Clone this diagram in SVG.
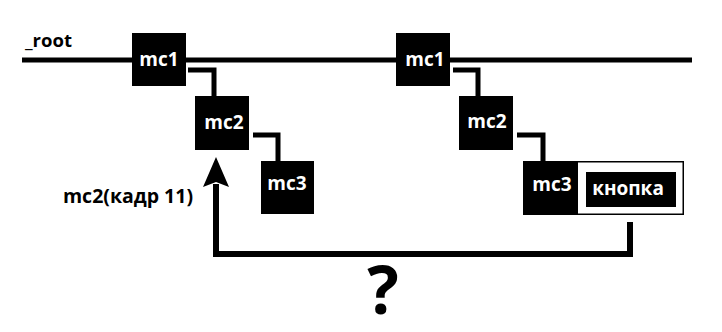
<svg xmlns="http://www.w3.org/2000/svg" width="722" height="332" viewBox="0 0 722 332">
<style>
.box{fill:#000}
.lbl{font-family:"Open Sans","Liberation Sans",sans-serif;font-weight:700;font-size:19px;fill:#fff}
.txt{font-family:"Open Sans","Liberation Sans",sans-serif;font-weight:700;fill:#000}
.ln{stroke:#000;stroke-width:5;fill:none;stroke-linecap:butt}
</style>
<rect width="722" height="332" fill="#fff"/>
<text class="txt" x="25" y="47" font-size="18.5">_root</text>
<g id="connectors">
<line class="ln" x1="22" y1="60" x2="692" y2="60"/>
<polyline class="ln" points="188,70 214,70 214,96"/>
<polyline class="ln" points="253,135 278,135 278,161"/>
<polyline class="ln" points="453,70 478,70 478,96"/>
<polyline class="ln" points="517,135 543,135 543,161"/>
<polyline class="ln" points="630,222 630,254 216,254 216,184" style="stroke-width:6"/>
<path d="M216 157 L229 187 L216 182 L203 187 Z" fill="#000"/>
</g>
<g id="mc1a"><rect class="box" x="132" y="33" width="54" height="53"/><text class="lbl" x="159" y="66" text-anchor="middle">mc1</text></g>
<g id="mc2a"><rect class="box" x="195" y="96" width="54" height="54"/><text class="lbl" x="224" y="129" text-anchor="middle">mc2</text></g>
<g id="mc3a"><rect class="box" x="261" y="161" width="53" height="53"/><text class="lbl" x="287" y="190" text-anchor="middle">mc3</text></g>
<g id="mc1b"><rect class="box" x="396" y="33" width="54" height="53"/><text class="lbl" x="425" y="66" text-anchor="middle">mc1</text></g>
<g id="mc2b"><rect class="box" x="459" y="96" width="54" height="54"/><text class="lbl" x="487" y="128" text-anchor="middle">mc2</text></g>
<g id="mc3b"><rect x="523.75" y="161.75" width="159.5" height="52.5" fill="#fff" stroke="#000" stroke-width="1.5"/><rect class="box" x="523" y="161" width="55" height="54"/><text class="lbl" x="552" y="191" text-anchor="middle">mc3</text></g>
<g id="button"><rect class="box" x="586" y="172" width="90" height="35"/><text class="lbl" x="628" y="195" text-anchor="middle">кнопка</text></g>
<text class="txt" x="193" y="203" font-size="19.5" text-anchor="end">mc2(кадр 11)</text>
<text class="txt" x="383" y="314" font-size="66" text-anchor="middle">?</text>
</svg>
